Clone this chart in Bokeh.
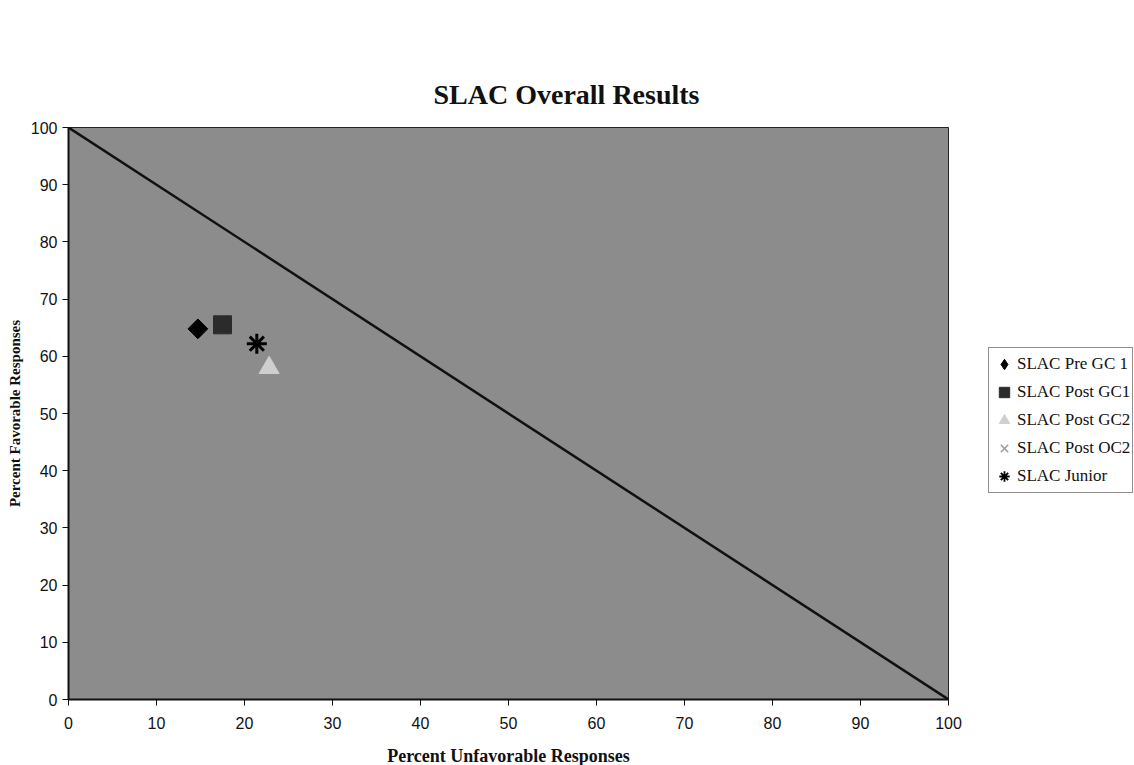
import math
from bokeh.plotting import figure
from bokeh.models import Legend, LegendItem, FixedTicker
from bokeh.embed import file_html
from bokeh.resources import INLINE

# Data
ref_x = [0, 100]
ref_y = [100, 0]

pre_gc1_x = [14.7]
pre_gc1_y = [64.8]
post_gc1_x = [17.5]
post_gc1_y = [65.5]
post_gc2_x = [22.8]
post_gc2_y = [58.0]
post_oc2_x = [float("nan")]   # not visible in the chart
post_oc2_y = [float("nan")]
junior_x = [21.4]
junior_y = [62.2]
no_x = [float("nan")]         # legend-only proxies
no_y = [float("nan")]

series_labels = ["SLAC Pre GC 1", "SLAC Post GC1", "SLAC Post GC2", "SLAC Post OC2", "SLAC Junior"]
ticks = [0, 10, 20, 30, 40, 50, 60, 70, 80, 90, 100]

p = figure(frame_width=880, frame_height=572,
           min_border_left=68, min_border_top=127, min_border_right=170, min_border_bottom=50,
           x_range=(0, 100), y_range=(0, 100),
           output_backend="svg", toolbar_location=None,
           title="SLAC Overall Results")

p.background_fill_color = "#8c8c8c"
p.border_fill_color = "white"
p.outline_line_color = "#222222"
p.outline_line_width = 1
p.xgrid.visible = False
p.ygrid.visible = False

p.title.text_font = "Liberation Serif"
p.title.text_font_size = "28px"
p.title.text_font_style = "bold"
p.title.text_color = "#111111"
p.title.align = "left"
p.title.offset = 365
p.title.standoff = 36

for ax in (p.xaxis[0], p.yaxis[0]):
    ax.ticker = FixedTicker(ticks=ticks)
    ax.minor_tick_line_color = None
    ax.major_tick_in = 0
    ax.major_tick_out = 6
    ax.axis_line_color = "#111111"
    ax.axis_line_width = 2
    ax.major_tick_line_color = "#111111"
    ax.major_label_text_font = "Liberation Sans"
    ax.major_label_text_font_size = "16px"
    ax.major_label_text_color = "#111111"
    ax.axis_label_text_font = "Liberation Serif"
    ax.axis_label_text_font_style = "bold"
    ax.axis_label_text_color = "#111111"

p.xaxis.axis_label = "Percent Unfavorable Responses"
p.yaxis.axis_label = "Percent Favorable Responses"
p.xaxis.axis_label_text_font_size = "18px"
p.yaxis.axis_label_text_font_size = "15px"
p.xaxis.major_label_standoff = 11
p.xaxis.axis_label_standoff = 14

p.line(ref_x, ref_y, line_color="#111111", line_width=2.5)

p.scatter(pre_gc1_x, pre_gc1_y, marker="square", angle=math.pi / 4, size=14,
          fill_color="black", line_color="black")
r1 = p.scatter(no_x, no_y, marker="diamond", size=14, fill_color="black", line_color="black")
r2 = p.scatter(post_gc1_x, post_gc1_y, marker="square", size=18, fill_color="#2b2b2b", line_color="#2b2b2b")
r3 = p.scatter(post_gc2_x, post_gc2_y, marker="triangle", size=20, fill_color="#cfcfcf", line_color="#cfcfcf")
r4 = p.scatter(post_oc2_x, post_oc2_y, marker="x", size=14, line_color="#9a9a9a", line_width=1.5)
p.scatter(junior_x, junior_y, marker="asterisk", size=20, line_color="black", line_width=3)
r5 = p.scatter(no_x, no_y, marker="asterisk", size=14, line_color="black", line_width=1.8)

legend = Legend(items=[LegendItem(label=lab, renderers=[r])
                       for lab, r in zip(series_labels, [r1, r2, r3, r4, r5])],
                location=(40, 206))
legend.label_text_font = "Liberation Serif"
legend.label_text_font_size = "17px"
legend.label_text_color = "#111111"
legend.glyph_width = 26
legend.glyph_height = 28
legend.spacing = 0
legend.padding = 2
legend.margin = 0
legend.label_standoff = 0
legend.border_line_color = "#222222"
legend.border_line_width = 1
legend.background_fill_color = "white"
legend.background_fill_alpha = 1
p.add_layout(legend, "right")

open("out.html", "w").write(file_html(p, INLINE))
